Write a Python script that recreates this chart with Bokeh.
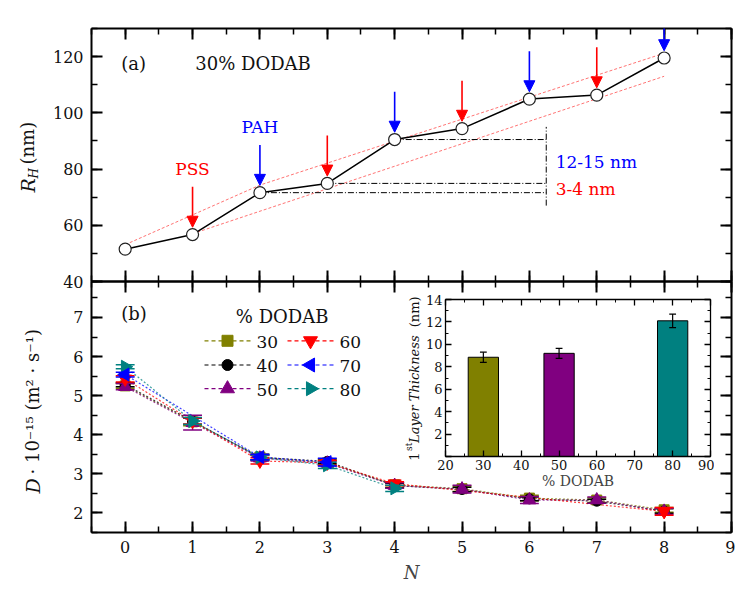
import math
from bokeh.plotting import figure
from bokeh.models import (Range1d, LinearAxis, SingleIntervalTicker, Label, Arrow, NormalHead,
                          ColumnDataSource, CustomJSTickFormatter)
from bokeh.layouts import column
from bokeh.embed import file_html
from bokeh.resources import INLINE

FONT = "DejaVu Serif"

# ---------------- panel (a) data ----------------
layer_N = [0, 1, 2, 3, 4, 5, 6, 7, 8]
RH_nm = [51.5, 56.7, 71.6, 74.9, 90.5, 94.4, 104.9, 106.3, 119.5]
pss_N = [1, 3, 5, 7]
pah_N = [2, 4, 6, 8]
guide_hi_N = [0, 2, 8]
guide_hi_R = [53.1, 74.3, 121.2]
guide_lo_N = [1, 8]
guide_lo_R = [57.0, 113.0]
step_N = [2, 3, 4]
bracket_N = 6.25
bracket_R = [67.0, 95.0]

# ---------------- panel (b) data ----------------
N_30 = [0, 1, 2, 3, 4, 5, 6, 7, 8]
D_30 = [5.25, 4.33, 3.43, 3.28, 2.72, 2.62, 2.38, 2.33, 2.08]
E_30 = [0.06, 0.10, 0.08, 0.06, 0.06, 0.07, 0.07, 0.06, 0.06]
N_40 = [0, 1, 2, 3, 4, 5, 6, 7, 8]
D_40 = [5.28, 4.35, 3.42, 3.32, 2.70, 2.60, 2.36, 2.30, 2.05]
E_40 = [0.05, 0.08, 0.06, 0.06, 0.06, 0.06, 0.05, 0.05, 0.06]
N_50 = [0, 1, 2, 3, 4, 5, 6, 7, 8]
D_50 = [5.23, 4.31, 3.40, 3.27, 2.70, 2.61, 2.33, 2.33, 2.04]
E_50 = [0.08, 0.19, 0.07, 0.06, 0.07, 0.10, 0.09, 0.08, 0.08]
N_60 = [0, 1, 2, 3, 4, 8]
D_60 = [5.43, 4.35, 3.33, 3.28, 2.75, 2.04]
E_60 = [0.08, 0.08, 0.08, 0.06, 0.05, 0.10]
N_70 = [0, 2, 3]
D_70 = [5.54, 3.43, 3.30]
E_70 = [0.06, 0.07, 0.10]
N_80 = [0, 1, 2, 3, 4]
D_80 = [5.74, 4.35, 3.42, 3.22, 2.63]
E_80 = [0.05, 0.09, 0.06, 0.08, 0.08]
dodab_labels = ["30", "40", "50", "60", "70", "80"]

# ---------------- inset data ----------------
dodab_pct = [30, 50, 80]
thickness_nm = [8.85, 9.2, 12.1]
thickness_err = [0.45, 0.45, 0.6]

OLIVE, PURPLE, TEAL = "#808000", "#800080", "#008080"
BLANK = CustomJSTickFormatter(code="return ''")


def make_axis(p, side, ticker, labels=True, size="16px", tin=11, tmin=6, lw=2.0, standoff=7):
    ax = LinearAxis(ticker=ticker)
    ax.axis_line_width = lw
    ax.axis_line_color = "black"
    ax.major_tick_line_width = lw
    ax.minor_tick_line_width = lw * 0.75
    ax.major_tick_in = tin
    ax.major_tick_out = 0
    ax.minor_tick_in = tmin
    ax.minor_tick_out = 0
    ax.major_label_text_font = FONT
    ax.major_label_text_color = "#111111"
    if labels:
        ax.major_label_text_font_size = size
        ax.major_label_standoff = standoff
    else:
        ax.formatter = BLANK
        ax.major_label_standoff = 0
        ax.major_label_text_font_size = "8px"
    p.add_layout(ax, side)
    return ax


def lab(p, x, y, text, size="17px", color="#111111", align="left", style="normal", angle=0.0):
    p.add_layout(Label(x=x, y=y, text=text, text_font=FONT, text_font_size=size,
                       text_color=color, text_align=align, text_baseline="middle",
                       text_font_style=style, angle=angle))


def base_fig(w, h, xr, yr, **kw):
    p = figure(width=w, height=h, x_range=xr, y_range=yr, output_backend="svg",
               toolbar_location=None, x_axis_location=None, y_axis_location=None, **kw)
    p.outline_line_color = None
    p.grid.visible = False
    p.border_fill_alpha = 0
    return p


# ======================= top panel (a) =======================
xr = Range1d(-0.5, 9)
p1 = base_fig(735, 291, xr, Range1d(40, 130),
              min_border_left=91, min_border_right=4, min_border_top=28, min_border_bottom=10)
xt = SingleIntervalTicker(interval=1, num_minor_ticks=2)
yt1 = SingleIntervalTicker(interval=20, num_minor_ticks=2)
make_axis(p1, "below", xt, labels=False)
make_axis(p1, "above", xt, labels=False)
make_axis(p1, "left", yt1, labels=True, standoff=8)
make_axis(p1, "right", yt1, labels=False)

p1.line(guide_hi_N, guide_hi_R, line_color="#ff5050", line_dash="3 2", line_width=1, line_alpha=0.8)
p1.line(guide_lo_N, guide_lo_R, line_color="#ff5050", line_dash="3 2", line_width=1, line_alpha=0.8)
p1.segment(x0=[layer_N[i] for i in step_N], y0=[RH_nm[i] for i in step_N],
           x1=[bracket_N] * len(step_N), y1=[RH_nm[i] for i in step_N],
           line_color="black", line_width=1, line_dash="6 2 1 2")
p1.segment(x0=[bracket_N], y0=[bracket_R[0]], x1=[bracket_N], y1=[bracket_R[1]],
           line_color="black", line_width=1, line_dash="6 2 1 2")

p1.line(layer_N, RH_nm, line_color="black", line_width=1.5)
p1.scatter(layer_N, RH_nm, marker="circle", size=12, fill_color="white",
           line_color="#222222", line_width=1.2)

for ns, col in ((pss_N, "#ff0000"), (pah_N, "#0000ff")):
    src = ColumnDataSource(dict(x=ns, y0=[RH_nm[n] + 17 for n in ns], y1=[RH_nm[n] + 2.6 for n in ns]))
    p1.add_layout(Arrow(end=NormalHead(size=11, fill_color=col, line_color=col, line_width=1),
                        x_start="x", y_start="y0", x_end="x", y_end="y1", source=src,
                        line_color=col, line_width=1.6))

lab(p1, -0.06, 117.4, "(a)", size="18px")
lab(p1, 1.04, 117.4, "30% DODAB", size="18px")
lab(p1, 1, 80.0, "PSS", size="17px", color="#ff0000", align="center")
lab(p1, 2, 95.0, "PAH", size="17px", color="#0000ff", align="center")
lab(p1, 6.39, 82.5, "12-15 nm", size="17px", color="#0000ff")
lab(p1, 6.39, 73.0, "3-4 nm", size="17px", color="#ff0000")

# ======================= bottom panel (b) =======================
p2 = base_fig(735, 314, xr, Range1d(1.5, 7.92),
              min_border_left=91, min_border_right=4, min_border_top=10, min_border_bottom=50)
p2.margin = (-20, 0, 0, 0)
p2.background_fill_alpha = 0
yt2 = SingleIntervalTicker(interval=1, num_minor_ticks=2)
xb = make_axis(p2, "below", xt, labels=True, standoff=8)
make_axis(p2, "above", xt, labels=False)
make_axis(p2, "left", yt2, labels=True, standoff=8)
make_axis(p2, "right", yt2, labels=False)
xb.axis_label = "N"
xb.axis_label_text_font = FONT
xb.axis_label_text_font_style = "italic"
xb.axis_label_text_font_size = "18px"
xb.axis_label_standoff = 6

series = [
    ("30", N_30, D_30, E_30, OLIVE, "square", 0.0, 10),
    ("40", N_40, D_40, E_40, "black", "circle", 0.0, 10),
    ("50", N_50, D_50, E_50, PURPLE, "triangle", 0.0, 13),
    ("60", N_60, D_60, E_60, "#ff0000", "inverted_triangle", 0.0, 13),
    ("70", N_70, D_70, E_70, "#0000ff", "triangle", math.pi / 2, 13),
    ("80", N_80, D_80, E_80, TEAL, "triangle", -math.pi / 2, 13),
]
for name, ns, ds, es, col, mk, ang, sz in series:
    p2.line(ns, ds, line_color=col, line_dash="2 2", line_width=1.2, line_alpha=0.75)

cap = 0.14
for name in ["30", "40", "50", "60", "80", "70"]:
    _, ns, ds, es, col, mk, ang, sz = [s for s in series if s[0] == name][0]
    lo = [d - e for d, e in zip(ds, es)]
    hi = [d + e for d, e in zip(ds, es)]
    p2.segment(x0=ns, y0=lo, x1=ns, y1=hi, line_color=col, line_width=1.5)
    p2.segment(x0=[n - cap for n in ns], y0=lo, x1=[n + cap for n in ns], y1=lo, line_color=col, line_width=1.5)
    p2.segment(x0=[n - cap for n in ns], y0=hi, x1=[n + cap for n in ns], y1=hi, line_color=col, line_width=1.5)
    p2.scatter(ns, ds, marker=mk, angle=ang, size=sz, fill_color=col, line_color=col)


# ---- legend key (two columns), positioned in page pixels and mapped to panel (b) ----
def px_x(x):
    return (x - 91) / (640 / 9.5) - 0.5


def px_y(y):
    return 1.5 + (535 - y) * (6.42 / 254)


LEG_COL_X = [204, 287]
LEG_ROW_Y = [341, 365.5, 389.5]
for i, s in enumerate(series):
    name, ns, ds, es, col, mk, ang, sz = s
    cx = LEG_COL_X[i // 3]
    cy = LEG_ROW_Y[i % 3]
    p2.segment(x0=[px_x(cx)], y0=[px_y(cy)], x1=[px_x(cx + 48)], y1=[px_y(cy)],
               line_color=col, line_dash="4 3", line_width=1.2)
    p2.scatter([px_x(cx + 23)], [px_y(cy)], marker=mk, angle=ang, size=sz + 1,
               fill_color=col, line_color=col)
    lab(p2, px_x(cx + 52), px_y(cy + 1), name, size="17px")

lab(p2, -0.06, 7.1, "(b)", size="18px")
lab(p2, 2.33, 7.02, "% DODAB", size="18px", align="center")

# inset y label, drawn in panel (b) just left of the inset frame
lab(p2, 4.294, 3.334, "1", size="13px", angle=math.pi / 2)
lab(p2, 4.22, 3.587, "st", size="9px", angle=math.pi / 2)
lab(p2, 4.294, 3.79, "Layer Thickness", size="13px", style="italic", angle=math.pi / 2)
lab(p2, 4.294, 6.75, "(nm)", size="13px", angle=math.pi / 2)

# ======================= inset =======================
p3 = base_fig(360, 202, Range1d(20, 90), Range1d(0, 14),
              min_border_left=91, min_border_right=4, min_border_top=5, min_border_bottom=40)
p3.margin = (-291, 0, 0, 354)
p3.background_fill_color = "white"
xt3 = SingleIntervalTicker(interval=10, num_minor_ticks=2)
yt3 = SingleIntervalTicker(interval=2, num_minor_ticks=2)
xi = make_axis(p3, "below", xt3, labels=True, size="13px", tin=6, tmin=3, lw=1.3, standoff=3)
make_axis(p3, "above", xt3, labels=False, tin=6, tmin=3, lw=1.3)
yi = make_axis(p3, "left", yt3, labels=True, size="13px", tin=6, tmin=3, lw=1.3, standoff=3)
make_axis(p3, "right", yt3, labels=False, tin=6, tmin=3, lw=1.3)
yi.major_label_overrides = {0: ""}
xi.axis_label = "% DODAB"
xi.axis_label_text_font = FONT
xi.axis_label_text_font_style = "normal"
xi.axis_label_text_font_size = "14px"
xi.axis_label_standoff = 0

p3.vbar(x=dodab_pct, top=thickness_nm, width=8, fill_color=[OLIVE, PURPLE, TEAL],
        line_color="black", line_width=1)
lo3 = [t - e for t, e in zip(thickness_nm, thickness_err)]
hi3 = [t + e for t, e in zip(thickness_nm, thickness_err)]
p3.segment(x0=dodab_pct, y0=lo3, x1=dodab_pct, y1=hi3, line_color="black", line_width=1.2)
p3.segment(x0=[x - 0.9 for x in dodab_pct], y0=lo3, x1=[x + 0.9 for x in dodab_pct], y1=lo3,
           line_color="black", line_width=1.2)
p3.segment(x0=[x - 0.9 for x in dodab_pct], y0=hi3, x1=[x + 0.9 for x in dodab_pct], y1=hi3,
           line_color="black", line_width=1.2)

# ============ transparent overlay holding the two main y-axis titles ============
# its frame covers page pixels x 0..100, y 100..520 (data y = 520 - page y)
p4 = base_fig(195, 420, Range1d(0, 100), Range1d(0, 420),
              min_border_left=91, min_border_right=4, min_border_top=0, min_border_bottom=0)
p4.margin = (-396, 0, 0, -91)
p4.background_fill_alpha = 0
TOP = 520
lab(p4, 27, TOP - 192, "R", size="19px", style="italic", angle=math.pi / 2)
lab(p4, 33, TOP - 178, "H", size="12px", style="italic", angle=math.pi / 2)
lab(p4, 27, TOP - 164, "(nm)", size="18px", angle=math.pi / 2)
lab(p4, 32, TOP - 493, "D", size="19px", style="italic", angle=math.pi / 2)
lab(p4, 32, TOP - 474, "· 10⁻¹⁵ (m² · s⁻¹)", size="18px", angle=math.pi / 2)

layout = column(p1, p2, p3, p4, spacing=0)
open("out.html", "w").write(file_html(layout, INLINE))
